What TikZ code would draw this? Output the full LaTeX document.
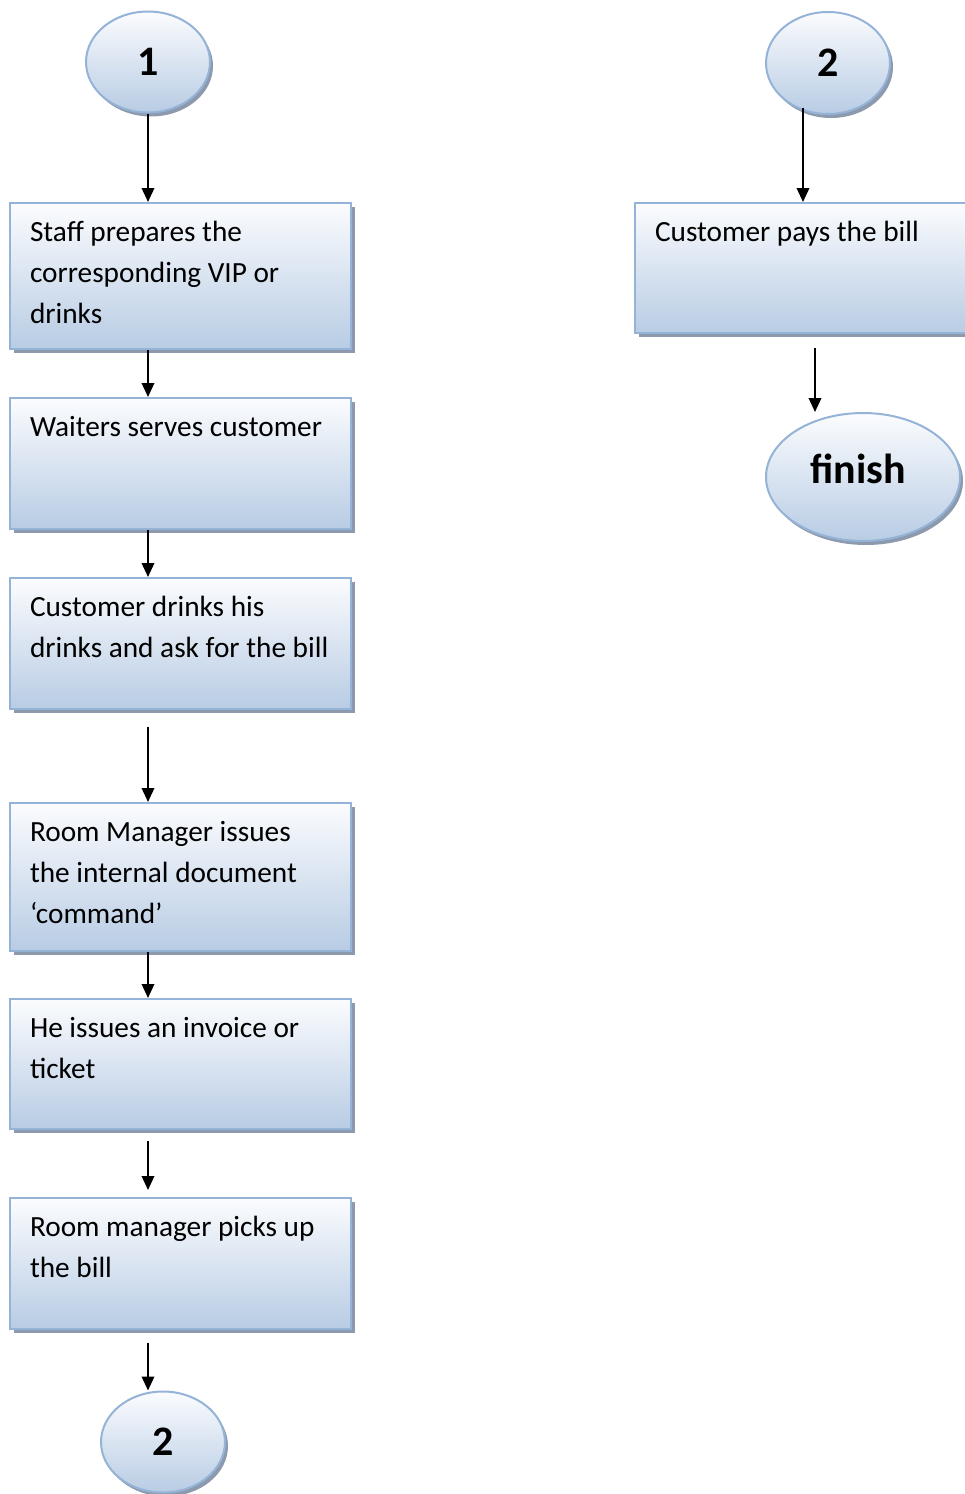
\documentclass[tikz,border=0pt]{standalone}
\usepackage{fontspec}
\setmainfont{Carlito}
\usetikzlibrary{arrows.meta,shadows,calc,shapes.geometric}

\definecolor{edgeblue}{HTML}{95B3D7}
\definecolor{topfill}{HTML}{FBFCFE}
\definecolor{botfill}{HTML}{B8CCE4}
\definecolor{shadowc}{HTML}{8D9AAE}

% text block inside a process box: fixed height, top-left aligned
\newcommand{\proctext}[2]{\parbox[c][#1][t]{341pt}{\fontsize{29.3pt}{41pt}\selectfont
  \raggedright\leftskip=20pt\rule{0pt}{38.5pt}#2}}

\tikzset{
  procbox/.style={rectangle, draw=edgeblue, line width=2pt,
    top color=topfill, bottom color=botfill, inner sep=0pt, anchor=north west,
    general shadow={fill=shadowc, shadow xshift=3.5pt, shadow yshift=-3.5pt}},
  connector/.style={ellipse, draw=edgeblue, line width=2pt,
    top color=topfill, bottom color=botfill, inner sep=0pt,
    general shadow={fill=shadowc, shadow xshift=3pt, shadow yshift=-4pt},
    font=\fontsize{42pt}{42pt}\selectfont\bfseries},
  flow/.style={line width=2pt, -{Triangle[width=12.5pt,length=14pt]}},
}

\begin{document}
\begin{tikzpicture}[x=1pt,y=-1pt]
\useasboundingbox (0,0) rectangle (965,1494);
\clip (0,0) rectangle (965,1494);

% left column
\node[connector, minimum width=124pt, minimum height=101pt] (c1) at (148,62) {1};

\node[procbox] (b1) at (9,202) {\proctext{146pt}{Staff prepares the\\corresponding VIP or\\drinks}};
\node[procbox] (b2) at (9,397) {\proctext{131pt}{Waiters serves customer}};
\node[procbox] (b3) at (9,577) {\proctext{131pt}{Customer drinks his\\drinks and ask for the bill}};
\node[procbox] (b4) at (9,802) {\proctext{148pt}{Room Manager issues\\the internal document\\‘command’}};
\node[procbox] (b5) at (9,998) {\proctext{130pt}{He issues an invoice or\\ticket}};
\node[procbox] (b6) at (9,1197) {\proctext{131pt}{Room manager picks up\\the bill}};

\node[connector, minimum width=124pt, minimum height=101pt] (c2b) at (163,1442) {2};

% right column
\node[connector, minimum width=124pt, minimum height=102pt] (c2) at (828,63) {2};
\node[procbox] (bp) at (634,202) {\proctext{130pt}{Customer pays the bill}};
\node[connector, minimum width=194pt, minimum height=128pt] (fin) at (863,477) {\raisebox{17pt}{finish}\hspace*{10pt}};

% free arrow ends
\coordinate (col) at (148,0);
\coordinate (s4) at (148,727);
\coordinate (s6) at (148,1141);
\coordinate (e6) at (148,1190);
\coordinate (s7) at (148,1343);
\coordinate (sR) at (803,108);
\coordinate (s9) at (815,348);

% arrows
\draw[flow] (c1.south) -- (c1.south |- b1.north);
\draw[flow] (col |- b1.south) -- (col |- b2.north);
\draw[flow] (col |- b2.south) -- (col |- b3.north);
\draw[flow] (s4) -- (s4 |- b4.north);
\draw[flow] (col |- b4.south) -- (col |- b5.north);
\draw[flow] (s6) -- (e6);
\draw[flow] (s7) -- (s7 |- c2b.north);
\draw[flow] (sR) -- (sR |- bp.north);
\draw[flow] (s9) -- (s9 |- fin.north);
\end{tikzpicture}
\end{document}
